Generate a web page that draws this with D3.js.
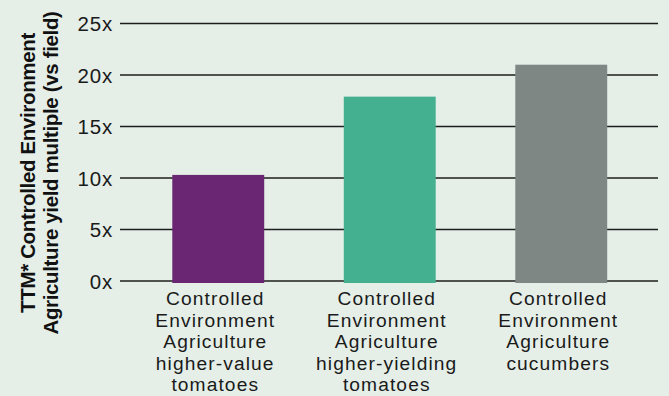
<!DOCTYPE html>
<html>
<head>
<meta charset="utf-8">
<script src="https://cdn.jsdelivr.net/npm/d3@7"></script>
<style>
  html, body { margin: 0; padding: 0; background: #e5efe8; }
  svg { display: block; }
</style>
</head>
<body>
<svg id="chart" width="669" height="396"></svg>
<script>
// ---- data ----
const categories = [
  ["Controlled", "Environment", "Agriculture", "higher-value", "tomatoes"],
  ["Controlled", "Environment", "Agriculture", "higher-yielding", "tomatoes"],
  ["Controlled", "Environment", "Agriculture", "cucumbers"]
];
const categoryKeys = ["hv-tomatoes", "hy-tomatoes", "cucumbers"];
const values = [10.3, 17.9, 21.0];
const barColors = ["#6a2672", "#45b08f", "#7f8784"];
const yTicks = [0, 5, 10, 15, 20, 25];
const yTickLabels = ["0x", "5x", "10x", "15x", "20x", "25x"];
const yTitleLines = ["TTM* Controlled Environment", "Agriculture yield multiple (vs field)"];

// ---- layout ----
const svg = d3.select("#chart");
const gridLeft = 120, gridRight = 658;
const plotTop = 23.5, plotBottom = 281;

const y = d3.scaleLinear().domain([0, 25]).range([plotBottom, plotTop]);
const x = d3.scaleBand().domain(categoryKeys).range([132.5, 647]).paddingInner(0.464).paddingOuter(0.232);

const font = "'Liberation Sans', Arial, Helvetica, sans-serif";

// gridlines
svg.append("g").selectAll("line").data(yTicks).join("line")
  .attr("x1", gridLeft).attr("x2", gridRight)
  .attr("y1", d => y(d)).attr("y2", d => y(d))
  .attr("stroke", "#1e1e1e").attr("stroke-width", 1.3);

// y tick labels via axis
const yAxis = d3.axisLeft(y).tickValues(yTicks)
  .tickFormat((d, i) => yTickLabels[i]).tickSize(0).tickPadding(0);
const ya = svg.append("g").attr("transform", "translate(113,0)").call(yAxis);
ya.select(".domain").remove();
ya.selectAll("text")
  .attr("font-family", font).attr("font-size", 20.5).attr("letter-spacing", 0.8)
  .attr("fill", "#1a1a1a")
  .attr("dy", "0.36em");

// bars
svg.append("g").selectAll("rect").data(values).join("rect")
  .attr("x", (d, i) => x(categoryKeys[i]))
  .attr("width", x.bandwidth())
  .attr("y", d => y(d))
  .attr("height", d => y(0) - y(d) + 2)
  .attr("fill", (d, i) => barColors[i]);

// x labels
const xl = svg.append("g").selectAll("text").data(categories).join("text")
  .attr("font-family", font).attr("font-size", 19.2).attr("letter-spacing", 1.1)
  .attr("fill", "#1a1a1a")
  .attr("text-anchor", "middle")
  .attr("x", (d, i) => x(categoryKeys[i]) + x.bandwidth() / 2 - 3)
  .attr("y", 305);
xl.selectAll("tspan").data(d => d).join("tspan")
  .attr("x", function() { return d3.select(this.parentNode).attr("x"); })
  .attr("dy", (d, i) => i === 0 ? 0 : 21.5)
  .text(d => d);

// y title
const yt = svg.append("text")
  .attr("transform", "translate(35,173) rotate(-90)")
  .attr("font-family", font).attr("font-size", 20.5).attr("font-weight", "bold")
  .attr("letter-spacing", -0.35)
  .attr("fill", "#111").attr("text-anchor", "middle");
yt.selectAll("tspan").data(yTitleLines).join("tspan")
  .attr("x", 0).attr("dy", (d, i) => i === 0 ? 0 : 23)
  .text(d => d);
</script>
</body>
</html>
